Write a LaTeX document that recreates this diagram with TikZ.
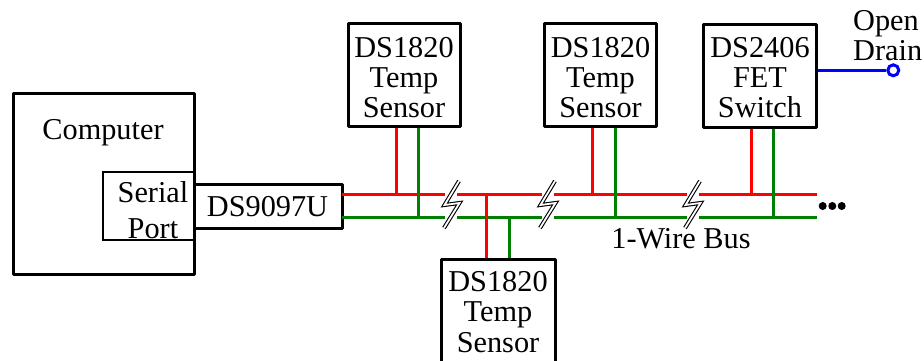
\documentclass[tikz,border=0pt]{standalone}
\usepackage{fontspec}
\setmainfont{Liberation Serif}
\tikzset{
  x=1pt,y=-1pt,
  lab/.style={inner sep=0pt,align=center,font=\fontsize{30.3}{30}\selectfont},
  devbox/.style={draw=black,line width=3pt,line join=round,minimum width=#1,minimum height=103pt,inner sep=0pt},
  devbox/.default=112pt,
  wire/.style={line width=3pt},
  rd/.style={wire,draw=red},
  gr/.style={wire,draw=green!50!black},
  blu/.style={wire,draw=blue},
  breakmark/.style={line width=1.1pt,draw=black,double=white,double distance=1.8pt,line join=miter},
  dotmark/.style={circle,fill=black,inner sep=0pt,minimum size=8pt},
}
\begin{document}
\begin{tikzpicture}
\useasboundingbox (0,0) rectangle (924,360);
\clip (0,0) rectangle (924,360);

% boxes
\node[draw=black,line width=3pt,line join=round,minimum width=181pt,minimum height=181pt,inner sep=0pt] (computer) at (103.5,183.5) {};
\node[draw=black,line width=1.5pt,minimum width=91pt,minimum height=68pt,inner sep=0pt] (port) at (148.5,206) {};
\node[draw=black,line width=3pt,line join=round,minimum width=148pt,minimum height=44pt,inner sep=0pt] (adapter) at (268,206) {};
\node[devbox] (s1) at (404,74.5) {};
\node[devbox] (s2) at (600.5,74.5) {};
\node[devbox=113pt] (sw) at (760,76) {};
\node[devbox=114pt] (s3) at (498,311) {};

% labels
\node[lab] (ladapter) at (267.5,207) {DS9097U};
\node[lab] (ls1) at (404,77.5) {DS1820\\Temp\\Sensor};
\node[lab] (ls2) at (600.5,77.5) {DS1820\\Temp\\Sensor};
\node[lab] (lsw) at (760,78) {DS2406\\FET\\Switch};
\node[lab,font=\fontsize{30.3}{30.5}\selectfont] (ls3) at (498,312) {DS1820\\Temp\\Sensor};
\node[lab] (lcomp) at (103,133) {Computer};
\node[lab,font=\fontsize{30.3}{36}\selectfont] (lport) at (153,210) {Serial\\Port};
\node[lab,align=left,anchor=west] (lopen) at (853,36) {Open\\Drain};
\node[lab] (lbus) at (681,239) {1-Wire Bus};

% bus coordinates
\coordinate (rstart) at (342,194.5);
\coordinate (gstart) at (342,217);
\coordinate (rend) at (817,194.5);
\coordinate (gend) at (817,217);

% bus
\draw[rd] (rstart) -- (rend);
\draw[gr] (gstart) -- (gend);

% stubs
\draw[rd] (s1.south -| 396,0) -- (396,194.5);
\draw[gr] (s1.south -| 418,0) -- (418,217);
\draw[rd] (s2.south -| 592,0) -- (592,194.5);
\draw[gr] (s2.south -| 615,0) -- (615,217);
\draw[rd] (sw.south -| 751,0) -- (751,194.5);
\draw[gr] (sw.south -| 773.5,0) -- (773.5,217);
\draw[rd] (486.7,194.5) -- (s3.north -| 486.7,0);
\draw[gr] (509,217) -- (s3.north -| 509,0);

% breaks in the bus
\fill[white] (445,190) rectangle (457,222);
\fill[white] (541.7,190) rectangle (554,222);
\fill[white] (687,190) rectangle (698.5,222);
\foreach \cx in {451.5,547.5,692.5}{
  \draw[breakmark] (\cx+7.5,181) -- (\cx-7,205) -- (\cx+8,203) -- (\cx-7.5,228);
}

% open drain
\node[circle,draw=blue,line width=3pt,minimum size=11pt,inner sep=0pt] (od) at (893.3,70.3) {};
\draw[blu] (sw.east |- od) -- (od);

% continuation dots
\node[dotmark] (d1) at (822.7,206) {};
\node[dotmark] (d2) at (832.3,206) {};
\node[dotmark] (d3) at (841.7,206) {};
\end{tikzpicture}
\end{document}
